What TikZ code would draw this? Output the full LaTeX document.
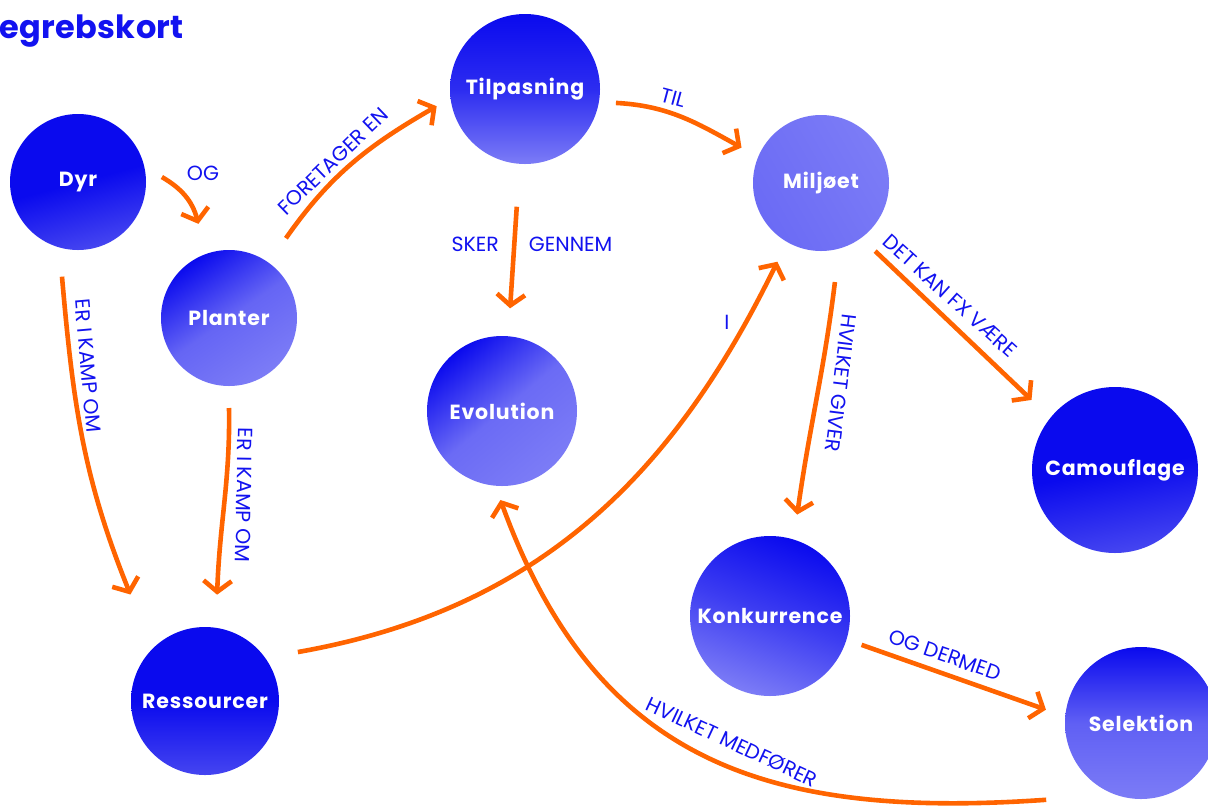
\documentclass[tikz,border=0pt]{standalone}
\usepackage{fontspec}
\setmainfont{Poppins}
\newfontfamily\conceptfont[LetterSpace=4]{Poppins}
\newfontfamily\titlefont[LetterSpace=1]{Poppins}
\usetikzlibrary{arrows.meta}
\definecolor{bdark}{HTML}{0A0AEE}
\definecolor{bmid}{HTML}{4545F0}
\definecolor{blight}{HTML}{7C7CF6}
\definecolor{lblue}{HTML}{1212F0}
\definecolor{aorange}{HTML}{FF6400}
\tikzset{
  concept/.style={circle, inner sep=0pt, text=white,
    font=\conceptfont\bfseries\fontsize{20.5}{24}\selectfont},
  conn/.style={draw=aorange, line width=4.6pt,
    -{Straight Barb[length=11pt,width=28pt]}},
  lab/.style={text=lblue, inner sep=0pt, font=\fontsize{20.5}{22}\selectfont},
}
\begin{document}
\begin{tikzpicture}[x=1pt,y=1pt]
\fill[white] (0,0) rectangle (1208,-807);
\useasboundingbox (0,0) rectangle (1208,-807);

\node[text=lblue, anchor=base east, inner sep=0pt,
  font=\titlefont\bfseries\fontsize{32}{36}\selectfont] (title) at (184,-38) {Begrebskort};

% concepts
\node[concept, minimum size=136pt, top color=bdark, bottom color=bmid, middle color=bdark, shading angle=15] (dyr) at (78,-182) {Dyr};
\node[concept, minimum size=136pt, top color=bdark, bottom color=blight, middle color=blight!80!bdark, shading angle=35] (planter) at (229,-318) {Planter};
\node[concept, minimum size=150pt, top color=bdark, bottom color=blight, middle color=bdark!70!blight, shading angle=0] (tilp) at (525,-89) {Tilpasning};
\node[concept, minimum size=136pt, top color=blight, bottom color=blight!85!bdark, shading angle=-60] (milj) at (821,-183) {Miljøet};
\node[concept, minimum size=150pt, top color=bdark, bottom color=blight, middle color=blight!85!bdark, shading angle=40] (evol) at (502,-411) {Evolution};
\node[concept, minimum size=166pt, top color=bdark, bottom color=bmid, middle color=bdark, shading angle=10] (cam) at (1115,-470) {Camouflage};
\node[concept, minimum size=160pt, top color=bdark, bottom color=blight, middle color=bdark!55!blight, shading angle=-20] (konk) at (770,-616) {Konkurrence};
\node[concept, minimum size=152pt, top color=bdark, bottom color=blight, middle color=blight!75!bdark, shading angle=0] (sel) at (1141,-723) {Selektion};
\node[concept, minimum size=148pt, top color=bdark, bottom color=bmid, middle color=bdark, shading angle=0] (ress) at (205,-701) {Ressourcer};

% connectors
\draw[conn] ([shift={(3.4:84)}]dyr.center) to[out=-30,in=105] ([shift={(108:99)}]planter.center);
\draw[conn] ([shift={(54.5:98)}]planter.center) to[out=55,in=210] ([shift={(191:90)}]tilp.center);
\draw[conn] ([shift={(-8.7:92)}]tilp.center) to[out=-3,in=151] ([shift={(156:87)}]milj.center);
\draw[conn] ([shift={(-94:118)}]tilp.center) -- ([shift={(85.5:103)}]evol.center);
\draw[conn] ([shift={(-99.6:96)}]dyr.center) to[out=-85,in=112] ([shift={(125:130)}]ress.center);
\draw[conn] ([shift={(-90:90)}]planter.center) to[out=-89,in=88] ([shift={(83.5:107)}]ress.center);
\draw[conn] ([shift={(27.8:105)}]ress.center) to[out=10,in=-116] ([shift={(-119:90)}]milj.center);
\draw[conn] ([shift={(-82:100)}]milj.center) to[out=-97,in=82] ([shift={(75:105)}]konk.center);
\draw[conn] ([shift={(-51.5:87)}]milj.center) -- ([shift={(140:109)}]cam.center);
\draw[conn] ([shift={(-17.5:96)}]konk.center) -- ([shift={(172:96)}]sel.center);
\draw[conn] ([shift={(-141:122)}]sel.center) to[out=184,in=-70,looseness=1.15] ([shift={(-91:89)}]evol.center);

% labels
\node[lab] (l1) at (203,-173) {OG};
\node[lab, rotate=44] (l2) at (333,-161) {FORETAGER EN};
\node[lab, rotate=-15] (l3) at (673,-98) {TIL};
\node[lab] (l4) at (532,-244) {SKER\hspace{30pt}GENNEM};
\node[lab, rotate=-85] (l5) at (88,-366) {ER I KAMP OM};
\node[lab, rotate=-91] (l6) at (244,-495) {ER I KAMP OM};
\node[lab] (l7) at (727,-322) {I};
\node[lab, rotate=-97] (l8) at (841,-383) {HVILKET GIVER};
\node[lab, rotate=-42] (l9) at (950,-296) {DET KAN FX VÆRE};
\node[lab, rotate=-19] (l10) at (945,-655) {OG DERMED};
\node[lab, rotate=-25] (l11) at (732,-742) {HVILKET MEDFØRER};
\end{tikzpicture}
\end{document}
